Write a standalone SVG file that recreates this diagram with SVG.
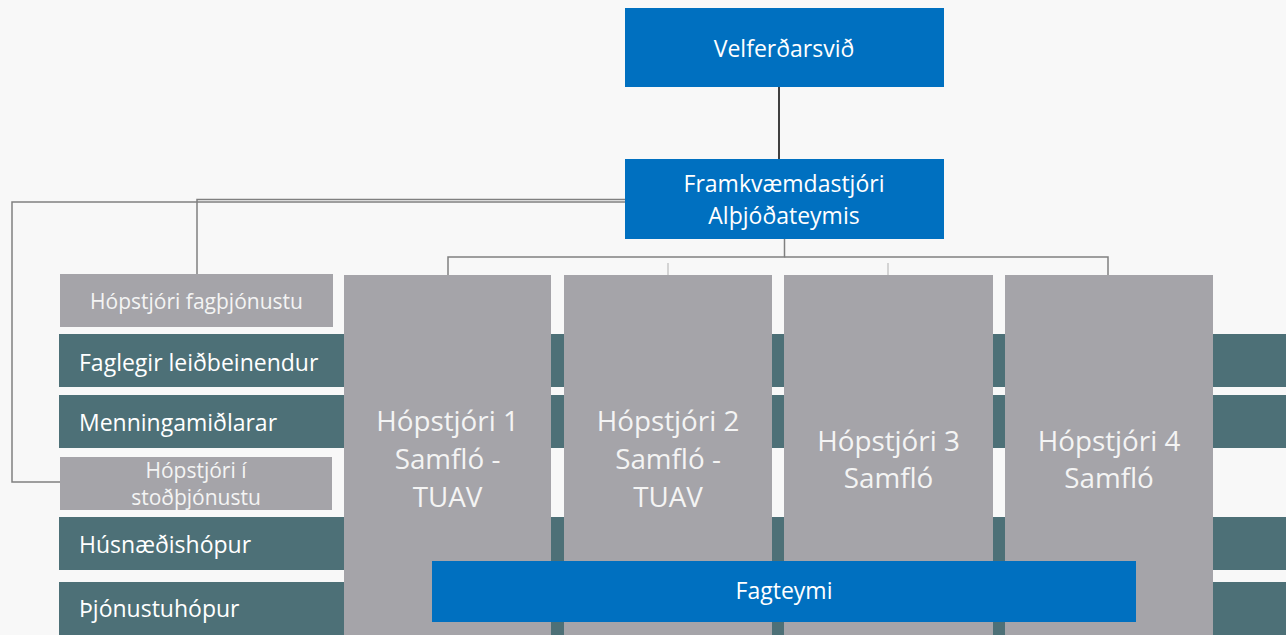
<svg xmlns="http://www.w3.org/2000/svg" width="1286" height="635" viewBox="0 0 1286 635">
<style>
.bg{fill:#f8f8f8}
.blue{fill:#0070c0}
.gray{fill:#a5a4a9}
.teal{fill:#4d7077}
.t{font-family:"Open Sans","Noto Sans","DejaVu Sans",sans-serif;fill:#ffffff}
.g{fill:#f4f4f4}
.c{text-anchor:middle}
.ln{fill:none;stroke:#808080;stroke-width:1.5}
</style>
<rect class="bg" x="0" y="0" width="1286" height="635"/>
<g id="connectors">
<line x1="779" y1="87" x2="779" y2="160" stroke="#404040" stroke-width="2"/>
<polyline class="ln" points="625,199.5 197,199.5 197,275"/>
<polyline class="ln" points="625,202 12,202 12,482 60,482"/>
<polyline class="ln" points="784.5,238 784.5,257 448,257 448,275"/>
<polyline class="ln" points="784.5,257 1108,257 1108,275"/>
<line x1="668" y1="263" x2="668" y2="275" stroke="#c8c8c8" stroke-width="1.5"/>
<line x1="888" y1="263" x2="888" y2="275" stroke="#c8c8c8" stroke-width="1.5"/>
</g>
<g id="row-faglegir">
<rect class="teal" x="59" y="334" width="1227" height="53"/>
<text class="t" x="79" y="370.5" font-size="23">Faglegir leiðbeinendur</text>
</g>
<g id="row-menningamidlarar">
<rect class="teal" x="59" y="395" width="1227" height="53"/>
<text class="t" x="79" y="431" font-size="23">Menningamiðlarar</text>
</g>
<g id="row-husnaedishopur">
<rect class="teal" x="59" y="517" width="1227" height="53"/>
<text class="t" x="79" y="553" font-size="23">Húsnæðishópur</text>
</g>
<g id="row-thjonustuhopur">
<rect class="teal" x="59" y="582" width="1227" height="53"/>
<text class="t" x="79" y="617" font-size="23">Þjónustuhópur</text>
</g>
<g id="velferdarsvid">
<rect class="blue" x="625" y="8" width="319" height="79"/>
<text class="t c" x="784" y="57" font-size="23">Velferðarsvið</text>
</g>
<g id="framkvaemdastjori">
<rect class="blue" x="625" y="159" width="319" height="80"/>
<text class="t c" x="784" y="192" font-size="23">Framkvæmdastjóri</text>
<text class="t c" x="784" y="223.5" font-size="23">Alþjóðateymis</text>
</g>
<g id="hopstjori-fagthjonustu">
<rect class="gray" x="60" y="274" width="273" height="53"/>
<text class="t g c" x="196.5" y="309" font-size="21">Hópstjóri fagþjónustu</text>
</g>
<g id="hopstjori-stodthjonustu">
<rect class="gray" x="60" y="457" width="272" height="53"/>
<text class="t g c" x="196" y="478" font-size="21">Hópstjóri í</text>
<text class="t g c" x="196" y="505" font-size="21">stoðþjónustu</text>
</g>
<g id="hopstjori-1">
<rect class="gray" x="344" y="275" width="207" height="360"/>
<text class="t g c" x="447.5" y="431" font-size="27.8">Hópstjóri 1</text>
<text class="t g c" x="447.5" y="469" font-size="27.8">Samfló -</text>
<text class="t g c" x="447.5" y="507" font-size="27.8">TUAV</text>
</g>
<g id="hopstjori-2">
<rect class="gray" x="564" y="275" width="208" height="360"/>
<text class="t g c" x="668" y="431" font-size="27.8">Hópstjóri 2</text>
<text class="t g c" x="668" y="469" font-size="27.8">Samfló -</text>
<text class="t g c" x="668" y="507" font-size="27.8">TUAV</text>
</g>
<g id="hopstjori-3">
<rect class="gray" x="784" y="275" width="209" height="360"/>
<text class="t g c" x="888.5" y="450.5" font-size="27.8">Hópstjóri 3</text>
<text class="t g c" x="888.5" y="488" font-size="27.8">Samfló</text>
</g>
<g id="hopstjori-4">
<rect class="gray" x="1005" y="275" width="208" height="360"/>
<text class="t g c" x="1109" y="450.5" font-size="27.8">Hópstjóri 4</text>
<text class="t g c" x="1109" y="488" font-size="27.8">Samfló</text>
</g>
<g id="fagteymi">
<rect class="blue" x="432" y="561" width="704" height="61"/>
<text class="t c" x="784" y="599" font-size="23">Fagteymi</text>
</g>
</svg>
